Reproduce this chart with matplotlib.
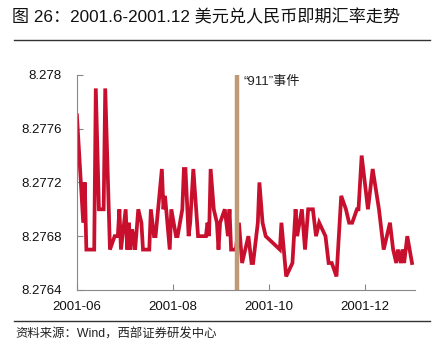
import matplotlib
matplotlib.use("Agg")
import matplotlib.pyplot as plt
import pandas as pd

plt.rcParams["font.family"] = ["Liberation Sans", "Noto Sans CJK SC", "DejaVu Sans"]

# USD/CNY spot rate, turning points
dates = [
    "2001-06-01", "2001-06-05", "2001-06-06", "2001-06-07", "2001-06-12", "2001-06-13",
    "2001-06-15", "2001-06-18", "2001-06-19", "2001-06-22", "2001-06-25", "2001-06-27",
    "2001-06-28", "2001-06-29", "2001-07-02", "2001-07-03", "2001-07-04", "2001-07-05",
    "2001-07-06", "2001-07-07", "2001-07-08", "2001-07-10", "2001-07-12", "2001-07-13",
    "2001-07-17", "2001-07-18", "2001-07-20", "2001-07-21", "2001-07-25", "2001-07-26",
    "2001-07-27", "2001-07-30", "2001-07-31", "2001-08-03", "2001-08-04", "2001-08-07",
    "2001-08-08", "2001-08-09", "2001-08-11", "2001-08-12", "2001-08-14", "2001-08-17",
    "2001-08-22", "2001-08-23", "2001-08-24", "2001-08-25", "2001-08-27", "2001-08-29",
    "2001-08-30", "2001-08-31", "2001-09-03", "2001-09-05", "2001-09-06", "2001-09-07",
    "2001-09-10", "2001-09-12", "2001-09-14", "2001-09-16", "2001-09-18", "2001-09-20",
    "2001-09-21", "2001-09-24", "2001-09-25", "2001-09-27", "2001-09-29", "2001-10-08",
    "2001-10-09", "2001-10-12", "2001-10-16", "2001-10-18", "2001-10-19", "2001-10-22",
    "2001-10-24", "2001-10-26", "2001-10-29", "2001-10-31", "2001-11-02", "2001-11-06",
    "2001-11-08", "2001-11-10", "2001-11-13", "2001-11-16", "2001-11-19", "2001-11-21",
    "2001-11-23", "2001-11-26", "2001-11-27", "2001-11-29", "2001-12-03", "2001-12-06",
    "2001-12-10", "2001-12-12", "2001-12-13", "2001-12-15", "2001-12-17", "2001-12-19",
    "2001-12-21", "2001-12-22", "2001-12-24", "2001-12-25", "2001-12-26", "2001-12-28",
    "2001-12-31",
]
rates = [
    8.2777, 8.2769, 8.2772, 8.2767, 8.2767, 8.2779,
    8.2770, 8.2770, 8.2779, 8.2767, 8.2768, 8.2768,
    8.2770, 8.2767, 8.2770, 8.2767, 8.2769, 8.2767,
    8.27685, 8.2768, 8.2767, 8.2770, 8.2769, 8.2767,
    8.2767, 8.2770, 8.2768, 8.2768, 8.2773, 8.2770,
    8.2771, 8.2767, 8.2770, 8.2768, 8.2768, 8.2770,
    8.2773, 8.2773, 8.2768, 8.2769, 8.2773, 8.2768,
    8.2768, 8.2769, 8.2768, 8.2773, 8.2770, 8.2769,
    8.2767, 8.2769, 8.2770, 8.2768, 8.2770, 8.2767,
    8.2767, 8.2769, 8.2766, 8.2767, 8.2768, 8.2766,
    8.2766, 8.2769, 8.2772, 8.2769, 8.2768, 8.2767,
    8.2769, 8.2765, 8.2766, 8.2770, 8.2768, 8.2770,
    8.2767, 8.2770, 8.2770, 8.2768, 8.2769, 8.2768,
    8.2766, 8.2766, 8.2765, 8.2771, 8.2770, 8.2769,
    8.2769, 8.2770, 8.2770, 8.2774, 8.2770, 8.2773,
    8.2770, 8.2768, 8.2767, 8.2768, 8.2769, 8.2767,
    8.2766, 8.2767, 8.2766, 8.2767, 8.2766, 8.2768,
    8.2766,
]
event_date = "2001-09-11"
event_label = "“911”事件"
yticks = [8.2764, 8.2768, 8.2772, 8.2776, 8.278]
ytick_labels = ["8.2764", "8.2768", "8.2772", "8.2776", "8.278"]
xticks = ["2001-06-01", "2001-08-01", "2001-10-01", "2001-12-01"]
xtick_labels = ["2001-06", "2001-08", "2001-10", "2001-12"]

x = pd.to_datetime(dates)

fig = plt.figure(figsize=(4.37, 3.57), dpi=100)
ax = fig.add_axes([0.176, 0.188, 0.774, 0.602])

ax.plot(x, rates, color="#C8102E", lw=2.7, solid_joinstyle="miter")
ax.axvline(pd.Timestamp(event_date), color="#C09A74", lw=3.2)
ax.text(pd.Timestamp(event_date) + pd.Timedelta(days=4), 8.27799, event_label,
        fontsize=9.5, va="top", ha="left", color="#222222",
        family=["Liberation Sans", "Noto Sans CJK SC"])

ax.set_xlim(pd.Timestamp("2001-06-01"), pd.Timestamp("2002-01-02"))
ax.set_ylim(8.2764, 8.278)
ax.set_yticks(yticks)
ax.set_yticklabels(ytick_labels)
ax.set_xticks(pd.to_datetime(xticks))
ax.set_xticklabels(xtick_labels)

for s in ["top", "right"]:
    ax.spines[s].set_visible(False)
for s in ["left", "bottom"]:
    ax.spines[s].set_color("#888888")
    ax.spines[s].set_linewidth(0.8)
ax.tick_params(axis="both", direction="in", length=4, color="#888888",
               labelsize=9.5, labelcolor="#111111")
ax.tick_params(axis="y", pad=11)
ax.tick_params(axis="x", pad=8)

fig.text(0.028, 0.952, "图 26：2001.6-2001.12 美元兑人民币即期汇率走势",
         fontsize=12.3, va="center", ha="left", color="#111111",
         family=["Liberation Sans", "Noto Sans CJK SC"])
fig.add_artist(plt.Line2D([0.032, 0.985], [0.888, 0.888], color="#333333", lw=1.0))
fig.add_artist(plt.Line2D([0.032, 0.985], [0.101, 0.101], color="#333333", lw=1.0))
fig.text(0.035, 0.064, "资料来源：Wind，西部证券研发中心",
         fontsize=8.9, va="center", ha="left", color="#222222",
         family=["Liberation Sans", "Noto Sans CJK SC"])

fig.savefig("out.png", dpi=100)
